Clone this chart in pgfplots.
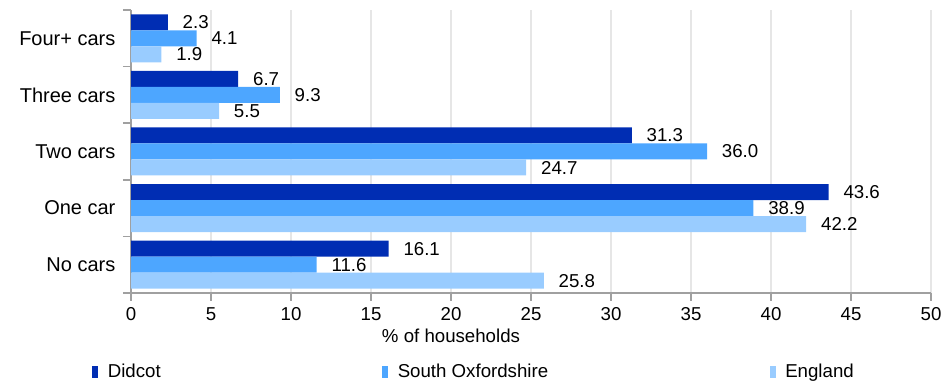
\documentclass[border=0pt]{standalone}
\usepackage{pgfplots}
\pgfplotsset{compat=1.18}
\usepackage{fontspec}
\setmainfont{Liberation Sans}
\definecolor{cA}{HTML}{002DB3}
\definecolor{cB}{HTML}{4DA6FF}
\definecolor{cC}{HTML}{99CCFF}
\definecolor{axgray}{HTML}{A0A0A0}
\definecolor{gridgray}{HTML}{E6E6E6}
\begin{document}
\fontsize{13.5}{16}\selectfont
\begin{tikzpicture}
\path[use as bounding box] (0,0) rectangle (714pt,288.75pt);
\begin{axis}[
  at={(98.25pt,69pt)}, anchor=south west,
  scale only axis, width=600pt, height=212.25pt,
  xmin=0, xmax=50, ymin=-0.5, ymax=4.5,
  xbar, bar width=12pt,
  axis lines*=left,
  axis line style={axgray, line width=1.2pt},
  xtick={0,5,...,50},
  xmajorgrids, grid style={gridgray, line width=0.8pt},
  ytick={0,1,2,3,4},
  yticklabels={No cars, One car, Two cars, Three cars, Four+ cars},
  minor ytick={-0.5,0.5,...,4.5},
  major y tick style={draw=none},
  minor y tick style={axgray, line width=1.2pt},
  minor tick length=6pt,
  major x tick style={axgray, line width=1.2pt},
  major tick length=6pt,
  xtick pos=bottom, ytick pos=left,
  tick align=outside,
  yticklabel style={font=\fontsize{15}{18}\selectfont, xshift=-1pt},
  xticklabel style={font=\fontsize{14}{16}\selectfont},
  /pgf/number format/assume math mode=true,
  xlabel={\% of households},
  xlabel style={at={(axis description cs:0.4,0)}, anchor=north, yshift=-22pt, font=\fontsize{14}{16}\selectfont},
  nodes near coords,
  nodes near coords style={anchor=west, xshift=6.5pt, font=\fontsize{14}{16}\selectfont, /pgf/number format/.cd, fixed, fixed zerofill, precision=1, assume math mode=true},
  legend columns=3,
  legend style={at={(axis description cs:-0.054,-0.279)}, anchor=west, draw=none, fill=none,
    font=\fontsize{14}{16}\selectfont,
    /tikz/every odd column/.append style={column sep=5pt},
    /tikz/every even column/.append style={column sep=164pt}},
  legend cell align=left,
  legend image code/.code={\fill[#1,draw=none] (0pt,-4.5pt) rectangle (4.8pt,4.5pt);},
]
\addplot[fill=cA, draw=none, bar shift=12pt] coordinates {(16.1,0) (43.6,1) (31.3,2) (6.7,3) (2.3,4)};
\addplot[fill=cB, draw=none, bar shift=0pt] coordinates {(11.6,0) (38.9,1) (36.0,2) (9.3,3) (4.1,4)};
\addplot[fill=cC, draw=none, bar shift=-12pt] coordinates {(25.8,0) (42.2,1) (24.7,2) (5.5,3) (1.9,4)};
\legend{Didcot, South Oxfordshire, England}
\end{axis}
\end{tikzpicture}
\end{document}
